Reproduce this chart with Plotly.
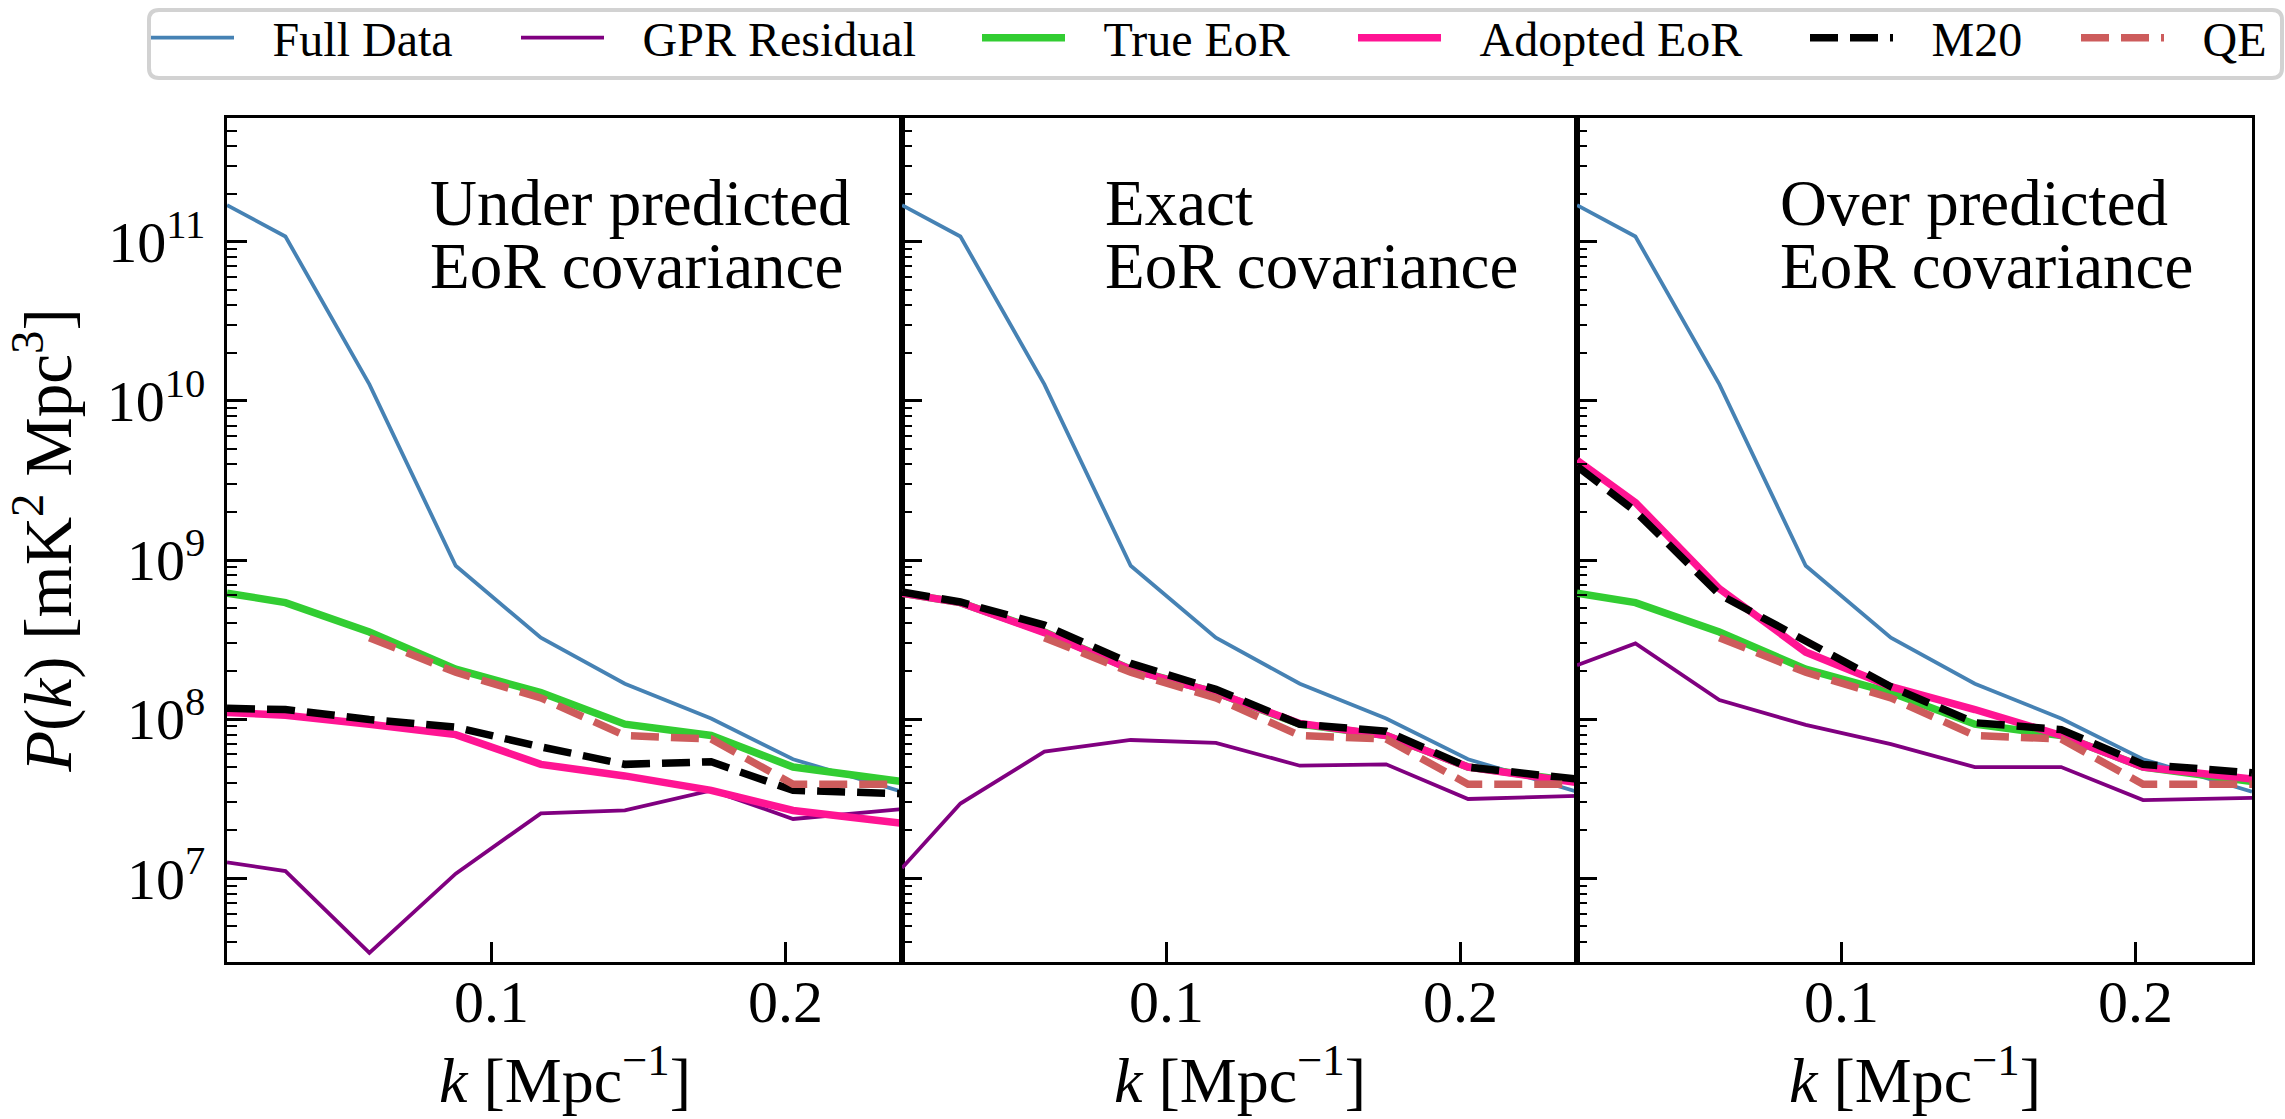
import plotly.graph_objects as go

# ---- data ----
k = [0.0098, 0.0297, 0.0583, 0.0877, 0.1167, 0.1453, 0.1747, 0.2026, 0.2397]

full_data = [1.70e11, 1.08e11, 1.27e10, 9.2e8, 3.25e8, 1.67e8, 1.01e8, 5.6e7, 3.5e7]
true_eor = [6.2e8, 5.4e8, 3.53e8, 2.06e8, 1.47e8, 9.3e7, 7.9e7, 5.0e7, 4.06e7]
qe = [None, None, 3.25e8, 1.97e8, 1.36e8, 7.9e7, 7.5e7, 3.9e7, 3.9e7]

gpr_under = [1.26e7, 1.11e7, 3.4e6, 1.07e7, 2.56e7, 2.67e7, 3.57e7, 2.36e7, 2.72e7]
adopted_under = [1.10e8, 1.06e8, 9.3e7, 8.0e7, 5.2e7, 4.4e7, 3.57e7, 2.67e7, 2.22e7]
m20_under = [1.17e8, 1.15e8, 9.96e7, 8.9e7, 6.7e7, 5.2e7, 5.4e7, 3.57e7, 3.4e7]

gpr_exact = [1.16e7, 2.95e7, 6.25e7, 7.4e7, 7.1e7, 5.1e7, 5.2e7, 3.15e7, 3.3e7]
adopted_exact = [6.2e8, 5.4e8, 3.5e8, 2.05e8, 1.47e8, 9.4e7, 7.9e7, 5.0e7, 4.0e7]
m20_exact = [6.3e8, 5.45e8, 3.9e8, 2.24e8, 1.54e8, 9.3e7, 8.4e7, 5.0e7, 4.2e7]

gpr_over = [2.18e8, 2.99e8, 1.32e8, 9.2e7, 6.97e7, 5.0e7, 5.0e7, 3.1e7, 3.2e7]
adopted_over = [4.23e9, 2.3e9, 6.6e8, 2.64e8, 1.6e8, 1.15e8, 7.9e7, 5.0e7, 4.2e7]
m20_over = [3.89e9, 2.02e9, 6.07e8, 3.12e8, 1.6e8, 9.5e7, 8.6e7, 5.2e7, 4.6e7]

panel_titles = [["Under predicted", "EoR covariance"],
                ["Exact", "EoR covariance"],
                ["Over predicted", "EoR covariance"]]
series_names = ["Full Data", "GPR Residual", "True EoR", "Adopted EoR", "M20", "QE"]
ytick_vals = [1e7, 1e8, 1e9, 1e10, 1e11]
ytick_text = ["10<sup>7</sup>", "10<sup>8</sup>", "10<sup>9</sup>", "10<sup>10</sup>", "10<sup>11</sup>"]
xtick_vals = [0.1, 0.2]
xtick_text = ["0.1", "0.2"]

panels = [
    (gpr_under, adopted_under, m20_under),
    (gpr_exact, adopted_exact, m20_exact),
    (gpr_over, adopted_over, m20_over),
]

# ---- style ----
FONT = "Liberation Serif"
COLORS = ["#4682B4", "#800080", "#32CD32", "#FF1493", "#000000", "#CD5C5C"]
THIN = 3.8
THICK = 7.5
DASH = "28px,12px"
WIDTHS = [THIN, THIN, THICK, THICK, THICK, THICK]
DASHES = ["solid", "solid", "solid", "solid", DASH, DASH]

W, H = 2285, 1119
ML, MR, MT, MB = 227, 33, 118, 157
PW = W - ML - MR
PH = H - MT - MB


def px_x(p):
    return (p - ML) / PW


def px_y(p):
    return 1 + (MT - p) / PH


legend_ids = ["legend"] + [f"legend{j}" for j in range(2, 7)]

fig = go.Figure()
for i, (gpr, adopted, m20) in enumerate(panels):
    xa = "x" if i == 0 else f"x{i+1}"
    ya = "y" if i == 0 else f"y{i+1}"
    vals_list = [full_data, gpr, true_eor, adopted, m20, qe]
    for j, name in enumerate(series_names):
        fig.add_trace(go.Scatter(
            x=k, y=vals_list[j], mode="lines", name="\u2002\u2009" + name, legendgroup=name,
            showlegend=(i == 0), legend=legend_ids[j], xaxis=xa, yaxis=ya,
            line=dict(color=COLORS[j], width=WIDTHS[j], dash=DASHES[j]),
            connectgaps=False, hoverinfo="skip",
        ))

minor_vals = [m * 10 ** e for e in range(6, 12) for m in range(2, 10)]

ymin, ymax = 6.474, 11.778
domains = [[0, 1 / 3], [1 / 3, 2 / 3], [2 / 3, 1]]
xtitle = "<i>k</i> [Mpc<sup>\u22121</sup>]"
ytitle = "<i>P</i>(<i>k</i>) [mK<sup>2</sup> Mpc<sup>3</sup>]"

layout_axes = {}
annotations = []
for i in range(3):
    sfx = "" if i == 0 else str(i + 1)
    layout_axes[f"xaxis{sfx}"] = dict(
        domain=domains[i], range=[k[0], k[-1]], anchor=f"y{sfx}",
        showline=True, linecolor="black", linewidth=3.3, mirror=True,
        ticks="inside", ticklen=20, tickwidth=3, tickcolor="black",
        tickmode="array", tickvals=xtick_vals, ticktext=xtick_text,
        showticklabels=False, automargin=False,
        showgrid=False, zeroline=False,
    )
    layout_axes[f"yaxis{sfx}"] = dict(
        type="log", range=[ymin, ymax], anchor=f"x{sfx}",
        showline=True, linecolor="black", linewidth=3.3, mirror=True,
        ticks="inside", ticklen=20, tickwidth=3, tickcolor="black",
        tickmode="array", tickvals=ytick_vals, ticktext=ytick_text,
        showticklabels=(i == 0), automargin=False,
        tickfont=dict(family=FONT, size=58, color="black"),
        ticklabelstandoff=7,
        minor=dict(ticks="inside", ticklen=10, tickwidth=2, tickcolor="black",
                   tickmode="array", tickvals=minor_vals, showgrid=False),
        showgrid=False, zeroline=False,
        title=dict(text=ytitle if i == 0 else "",
                   font=dict(family=FONT, size=67, color="black"), standoff=14),
    )
    # x tick labels, placed at their data values just below the axis
    for tv, tt in zip(xtick_vals, xtick_text):
        annotations.append(dict(
            text=tt, xref=f"x{sfx}", yref="paper", x=tv, y=px_y(1002),
            xanchor="center", yanchor="middle", showarrow=False,
            font=dict(family=FONT, size=60, color="black"),
        ))
    # x axis title
    annotations.append(dict(
        text=xtitle, xref=f"x{sfx} domain", yref="paper", x=0.5, y=px_y(1118),
        xanchor="center", yanchor="bottom", showarrow=False,
        font=dict(family=FONT, size=64, color="black"),
    ))

for i, (l1, l2) in enumerate(panel_titles):
    sfx = "" if i == 0 else str(i + 1)
    for txt, yy in ((l1, 0.899), (l2, 0.825)):
        annotations.append(dict(
            text=txt, xref=f"x{sfx} domain", yref="paper", x=0.298, y=yy,
            xanchor="left", yanchor="middle", showarrow=False,
            font=dict(family=FONT, size=65, color="black"),
        ))

# legend entries placed where the reference has them (line start pixel)
legend_line_starts = [163, 533, 994, 1370, 1822, 2093]
legends = {}
for j, lid in enumerate(legend_ids):
    legends[lid] = dict(
        orientation="h", xref="container", yref="container",
        x=(legend_line_starts[j] - 17) / W, xanchor="left",
        y=1 - 38 / H, yanchor="middle",
        font=dict(family=FONT, size=48, color="black"),
        borderwidth=0, bgcolor="rgba(0,0,0,0)",
        itemwidth=83, tracegroupgap=0,
    )

# rounded legend frame
bx0, bx1 = px_x(149), px_x(2282)
by0, by1 = px_y(78), px_y(10)
rx, ry = 10 / PW, 10 / PH
frame_path = (
    f"M{bx0 + rx},{by1} L{bx1 - rx},{by1} Q{bx1},{by1} {bx1},{by1 - ry} "
    f"L{bx1},{by0 + ry} Q{bx1},{by0} {bx1 - rx},{by0} "
    f"L{bx0 + rx},{by0} Q{bx0},{by0} {bx0},{by0 + ry} "
    f"L{bx0},{by1 - ry} Q{bx0},{by1} {bx0 + rx},{by1} Z"
)
shapes = [dict(type="path", xref="paper", yref="paper", path=frame_path,
               line=dict(color="#d2d2d2", width=4), fillcolor="white", layer="below")]

fig.update_layout(
    width=W, height=H,
    margin=dict(l=ML, r=MR, t=MT, b=MB, autoexpand=False),
    paper_bgcolor="white", plot_bgcolor="white",
    font=dict(family=FONT, color="black"),
    showlegend=True,
    annotations=annotations,
    shapes=shapes,
    **legends,
    **layout_axes,
)

fig.write_html(
    "out.html",
    config={"displayModeBar": False},
    post_script="document.body.style.margin='0';document.body.style.overflow='hidden';",
)
